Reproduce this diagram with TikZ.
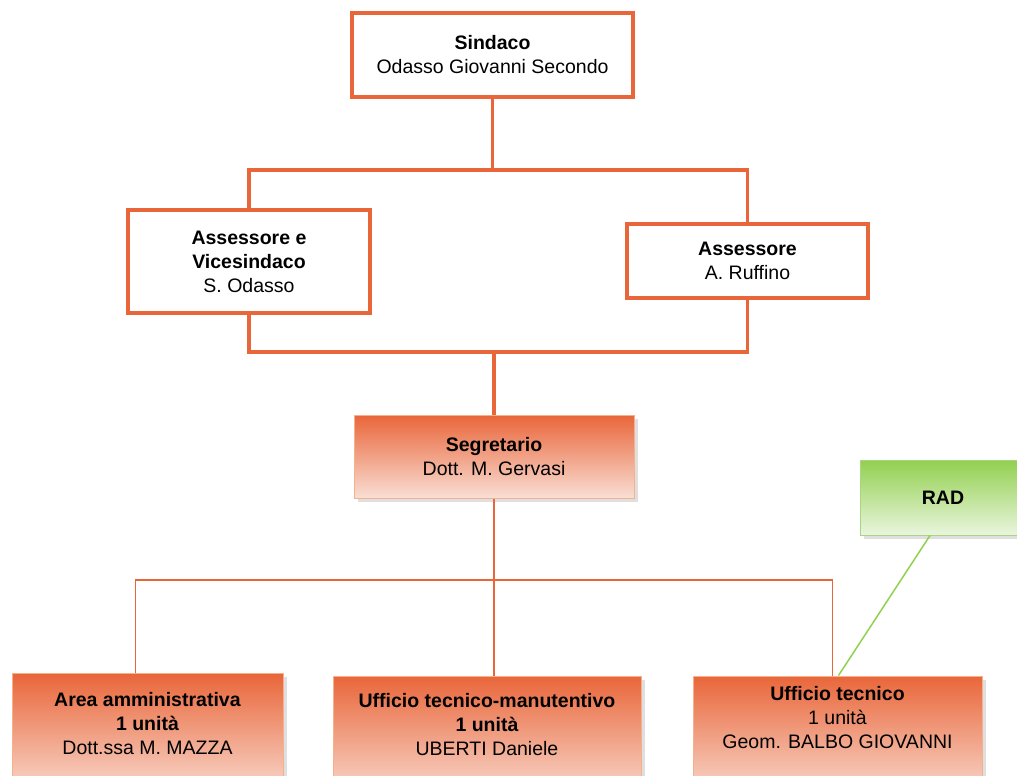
\documentclass[tikz,border=0pt]{standalone}
\usepackage{fontspec}
\setmainfont{Liberation Sans}
\usetikzlibrary{shadows}
\definecolor{arancio}{RGB}{233,102,58}
\definecolor{rosa}{RGB}{249,222,212}
\definecolor{bordorosa}{RGB}{244,177,140}
\definecolor{verde}{RGB}{146,208,80}
\definecolor{verdechiaro}{RGB}{234,245,222}
\definecolor{bordoverde}{RGB}{169,214,130}

\begin{document}
\begin{tikzpicture}[x=1pt,y=-1pt,
    font=\fontsize{19.5}{24}\selectfont,
    giunta/.style={draw=arancio,line width=4pt,fill=white,align=center},
    ombra/.style={drop shadow={shadow xshift=3.5pt,shadow yshift=-3.5pt,opacity=0.25,fill=gray}},
    ufficio/.style={draw=bordorosa,line width=1pt,top color=arancio,bottom color=rosa,ombra},
    esterno/.style={draw=bordoverde,line width=1pt,top color=verde,bottom color=verdechiaro,ombra},
    testo/.style={align=center,anchor=north},
    filo/.style={draw=arancio,line width=3.5pt},
    ramo/.style={draw=arancio,line width=1.3pt}]
            \clip (0,0) rectangle (1017,776);
            % organi politici
            \node[giunta,minimum width=281,minimum height=84] (sindaco) at (492.5,55) {\textbf{Sindaco}\\Odasso Giovanni Secondo};
            \node[giunta,minimum width=242,minimum height=103] (vice) at (249,261.5) {\textbf{Assessore e}\\\textbf{Vicesindaco}\\S. Odasso};
            \node[giunta,minimum width=241,minimum height=74] (assessore) at (747.5,261) {\textbf{Assessore}\\A. Ruffino};
            \draw[filo] (sindaco.south) -- (sindaco.south |- 0,170) -| (vice.north);
            \draw[filo] (sindaco.south |- 0,170) -| (assessore.north);
            \draw[filo] (vice.south) -- (vice.south |- 0,352) -| (assessore.south);
            % segretario e uffici
            \node[ufficio,align=center,minimum width=280,minimum height=83] (segretario) at (494,456.5) {\textbf{Segretario}\\Dott. M. Gervasi};
            \draw[filo] (segretario.north |- 0,352) -- (segretario.north);
            \node[esterno,minimum width=166,minimum height=75] (rad) at (943,497.5) {\textbf{RAD}};
            \node[ufficio,minimum width=271,minimum height=125,anchor=north] (area) at (147.5,673) {};
            \node[testo] (areatesto) at ([yshift=-15.5]area.north) {\textbf{Area amministrativa}\\\textbf{1 unità}\\Dott.ssa M. MAZZA};
            \node[ufficio,minimum width=308,minimum height=125,anchor=north] (manutentivo) at (487,675.5) {};
            \node[testo] (manutentivotesto) at ([yshift=-14]manutentivo.north) {\textbf{Ufficio tecnico-manutentivo}\\\textbf{1 unità}\\UBERTI Daniele};
            \node[ufficio,minimum width=289,minimum height=125,anchor=north] (tecnico) at (837.5,675.5) {};
            \node[testo] (tecnicotesto) at ([yshift=-7.5]tecnico.north) {\textbf{Ufficio tecnico}\\1 unità\\Geom. BALBO GIOVANNI};
            \draw[ramo] (segretario.south) -- (segretario.south |- manutentivo.north);
            \draw[ramo] ([xshift=-12]area.north) |- (segretario.south |- 0,580) -| ([xshift=-5]tecnico.north);
            \draw[verde,line width=1.5pt] ([xshift=-13]rad.south) -- ([xshift=1]tecnico.north);
        \end{tikzpicture}
\end{document}
